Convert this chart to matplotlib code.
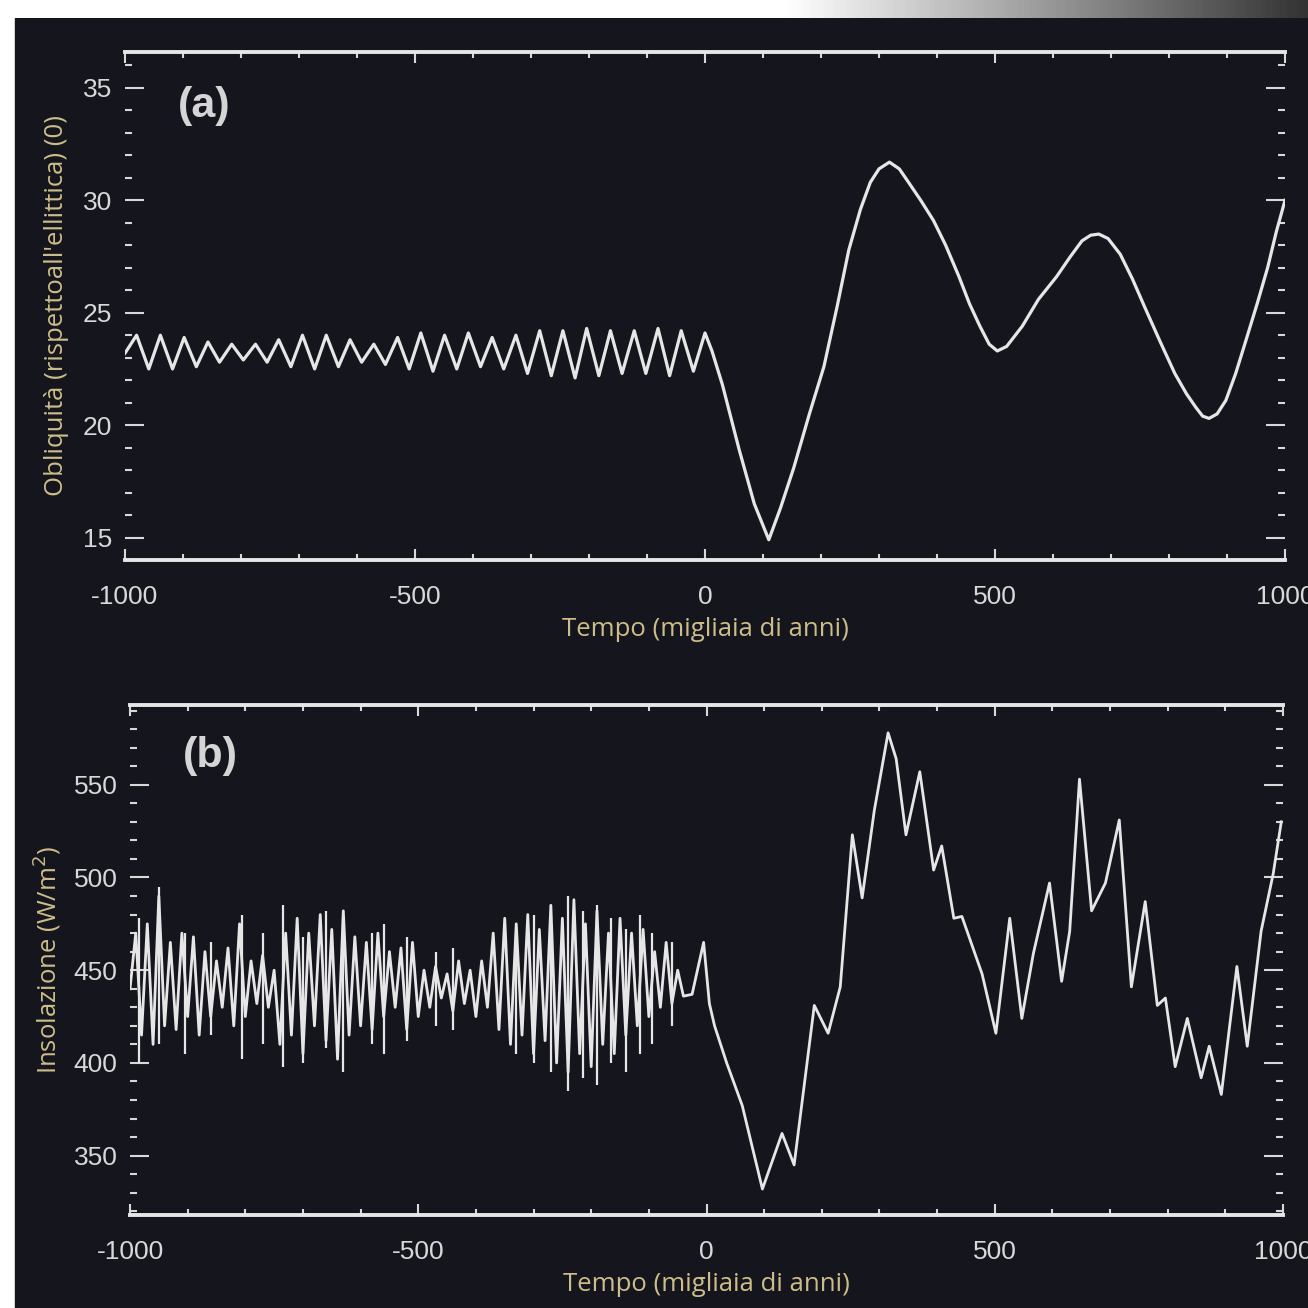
import numpy as np
import matplotlib
matplotlib.use("Agg")
import matplotlib.pyplot as plt
from matplotlib.patches import Rectangle
from matplotlib.ticker import MultipleLocator

plt.rcParams["axes.unicode_minus"] = False

# ---------------- data ----------------
# (a) obliquity, degrees
obl_t = [-1000, -980, -959, -939, -918, -898, -877, -857, -837, -816,
         -796, -775, -755, -735, -714, -694, -673, -653, -632, -612,
         -592, -571, -551, -530, -510, -490, -469, -449, -428, -408,
         -387, -367, -347, -326, -306, -285, -265, -245, -224, -204,
         -183, -163, -143, -122, -102, -81, -61, -41, -20, 0,
         12, 30, 59, 85, 110, 130, 153, 180, 205, 228,
         248, 268, 285, 300, 318, 335, 351, 372, 394, 415,
         438, 456, 474, 490, 504, 520, 547, 575, 606, 630,
         650, 665, 679, 695, 716, 737, 759, 785, 810, 830,
         846, 858, 869, 883, 898, 915, 933, 952, 970, 985, 1000]
obl_v = [23.2, 24.0, 22.5, 24.0, 22.5, 23.9, 22.6, 23.7, 22.8, 23.6,
         22.9, 23.6, 22.8, 23.8, 22.6, 24.0, 22.5, 24.0, 22.6, 23.8,
         22.8, 23.6, 22.7, 23.9, 22.5, 24.1, 22.4, 24.0, 22.5, 24.1,
         22.6, 23.9, 22.5, 24.0, 22.3, 24.2, 22.2, 24.2, 22.1, 24.3,
         22.2, 24.2, 22.3, 24.2, 22.3, 24.3, 22.2, 24.2, 22.4, 24.1,
         23.3, 21.8, 18.9, 16.5, 14.9, 16.3, 18.1, 20.5, 22.6, 25.3,
         27.8, 29.6, 30.8, 31.4, 31.7, 31.4, 30.8, 30.0, 29.1, 28.0,
         26.6, 25.4, 24.4, 23.6, 23.3, 23.5, 24.4, 25.6, 26.6, 27.5,
         28.2, 28.45, 28.5, 28.3, 27.6, 26.5, 25.2, 23.7, 22.3, 21.4,
         20.8, 20.4, 20.3, 20.5, 21.1, 22.3, 23.8, 25.4, 27.0, 28.6, 30.0]

# (b) insolation, W/m2
ins_t = [-1000, -990, -980, -970, -960, -950, -940, -930, -920, -910,
         -900, -890, -880, -870, -860, -850, -840, -830, -820, -810,
         -800, -790, -780, -770, -760, -750, -740, -730, -720, -710,
         -700, -690, -680, -670, -660, -650, -640, -630, -620, -610,
         -600, -590, -580, -570, -560, -550, -540, -530, -520, -510,
         -500, -490, -480, -470, -460, -450, -440, -430, -420, -410,
         -400, -390, -380, -370, -360, -350, -340, -330, -320, -310,
         -300, -290, -280, -270, -260, -250, -240, -230, -220, -210,
         -200, -190, -180, -170, -160, -150, -140, -130, -120, -110,
         -100, -90, -80, -70, -60, -50, -40, -25, -5, 5,
         14, 35, 62, 97, 131, 152, 187, 211, 232, 242,
         253, 270, 291, 315, 329, 346, 370, 394, 408, 429,
         443, 478, 502, 526, 547, 567, 595, 616, 630, 647,
         668, 692, 716, 737, 761, 782, 796, 813, 834, 858,
         872, 893, 920, 938, 962, 983, 997]
ins_v = [440, 470, 415, 475, 410, 490, 420, 465, 418, 470,
         425, 468, 415, 460, 425, 455, 430, 462, 420, 475,
         425, 455, 432, 458, 430, 450, 410, 470, 415, 478,
         405, 470, 420, 480, 412, 472, 402, 482, 415, 468,
         420, 465, 418, 470, 425, 460, 430, 462, 418, 465,
         425, 450, 430, 452, 435, 448, 428, 455, 432, 450,
         425, 455, 430, 470, 418, 478, 410, 475, 415, 480,
         405, 472, 412, 485, 400, 478, 395, 488, 405, 475,
         398, 482, 410, 470, 405, 478, 415, 470, 420, 472,
         425, 460, 430, 465, 432, 450, 436, 437, 465, 432,
         420, 400, 377, 332, 362, 345, 431, 416, 441, 480,
         523, 489, 536, 578, 564, 523, 557, 504, 517, 478,
         479, 448, 416, 478, 424, 459, 497, 444, 471, 553,
         482, 497, 531, 441, 487, 431, 435, 398, 424, 392,
         409, 383, 452, 409, 471, 502, 530]

# short vertical strokes scattered over the older part of (b)
spike_t = [-985, -950, -905, -860, -805, -770, -735, -700, -660, -630,
           -580, -560, -520, -470, -440, -330, -300, -270, -240, -215,
           -190, -165, -140, -115, -95, -60]
spike_lo = [400, 410, 405, 415, 402, 410, 398, 400, 408, 395,
            410, 405, 412, 420, 418, 405, 400, 395, 385, 392,
            388, 400, 395, 405, 410, 420]
spike_hi = [478, 495, 470, 465, 480, 470, 485, 468, 482, 478,
            470, 475, 468, 460, 462, 470, 480, 475, 490, 482,
            485, 478, 472, 480, 470, 465]

x_ticks = [-1000, -500, 0, 500, 1000]
x_label = "Tempo (migliaia di anni)"

# ---------------- figure ----------------
W = 1308
fig = plt.figure(figsize=(13.08, 13.08), dpi=100)
fig.patch.set_facecolor("white")
bg_col = "#15151d"
fig.add_artist(Rectangle((15 / W, 0), 1 - 15 / W, 1 - 18 / W,
                         transform=fig.transFigure, color=bg_col, zorder=0))

# grey shading on the top strip, right side
gax = fig.add_axes([0, 1 - 18 / W, 1, 18 / W])
shade = np.clip((np.linspace(0, 1, 400) - 0.6) / 0.4, 0, 1)
gax.imshow((1 - 0.8 * shade)[None, :], cmap="gray", vmin=0, vmax=1, aspect="auto")
gax.axis("off")

line_col = "#e6e6e6"
tick_col = "#d8d8d8"
lab_col = "#cdbd8a"
tick_font = ["Liberation Sans", "DejaVu Sans"]
lab_font = ["Open Sans", "DejaVu Sans"]


def style_axes(ax, ymaj, ymin):
    ax.set_facecolor("none")
    for s in ["left", "right"]:
        ax.spines[s].set_visible(False)
    for s in ["top", "bottom"]:
        ax.spines[s].set_color(line_col)
        ax.spines[s].set_linewidth(2.8)
    ax.set_xlim(-1000, 1000)
    ax.set_xticks(x_ticks)
    ax.xaxis.set_minor_locator(MultipleLocator(100))
    ax.yaxis.set_major_locator(MultipleLocator(ymaj))
    ax.yaxis.set_minor_locator(MultipleLocator(ymin))
    ax.tick_params(axis="both", which="both", direction="in", colors=tick_col,
                   top=True, right=True, width=1.5)
    ax.tick_params(axis="y", which="major", length=14, pad=9, labelsize=19)
    ax.tick_params(axis="y", which="minor", length=5)
    ax.tick_params(axis="x", which="major", length=8, pad=18, labelsize=19)
    ax.tick_params(axis="x", which="minor", length=4)
    for lab in ax.get_xticklabels() + ax.get_yticklabels():
        lab.set_family(tick_font)
    ax.set_xlabel(x_label, color=lab_col, fontsize=18.5, family=lab_font, labelpad=6)


ax1 = fig.add_axes([125 / W, 1 - 560 / W, 1160 / W, 508 / W])
ax1.plot(obl_t, obl_v, color=line_col, lw=2.3, solid_joinstyle="round")
ax1.set_ylim(14.0, 36.6)
style_axes(ax1, 5, 1)
ax1.set_yticks([15, 20, 25, 30, 35])
ax1.set_ylabel("Obliquità (rispettoall'ellittica) (0)", color=lab_col,
               fontsize=18.5, family=lab_font, labelpad=10)
ax1.text(0.046, 0.893, "(a)", transform=ax1.transAxes, color="#d5d5d5",
         fontsize=31, fontweight="bold", family=tick_font, va="center")

ax2 = fig.add_axes([130 / W, 1 - 1215 / W, 1153 / W, 510 / W])
ax2.plot(ins_t, ins_v, color=line_col, lw=2.0, solid_joinstyle="round")
ax2.vlines(spike_t, spike_lo, spike_hi, color=line_col, lw=1.6)
ax2.set_ylim(318, 593)
style_axes(ax2, 50, 10)
ax2.set_yticks([350, 400, 450, 500, 550])
ax2.set_ylabel("Insolazione (W/m$^2$)", color=lab_col,
               fontsize=18.5, family=lab_font, labelpad=8)
ax2.text(0.046, 0.9, "(b)", transform=ax2.transAxes, color="#d5d5d5",
         fontsize=31, fontweight="bold", family=tick_font, va="center")

fig.savefig("out.png", dpi=100, facecolor=fig.get_facecolor())
